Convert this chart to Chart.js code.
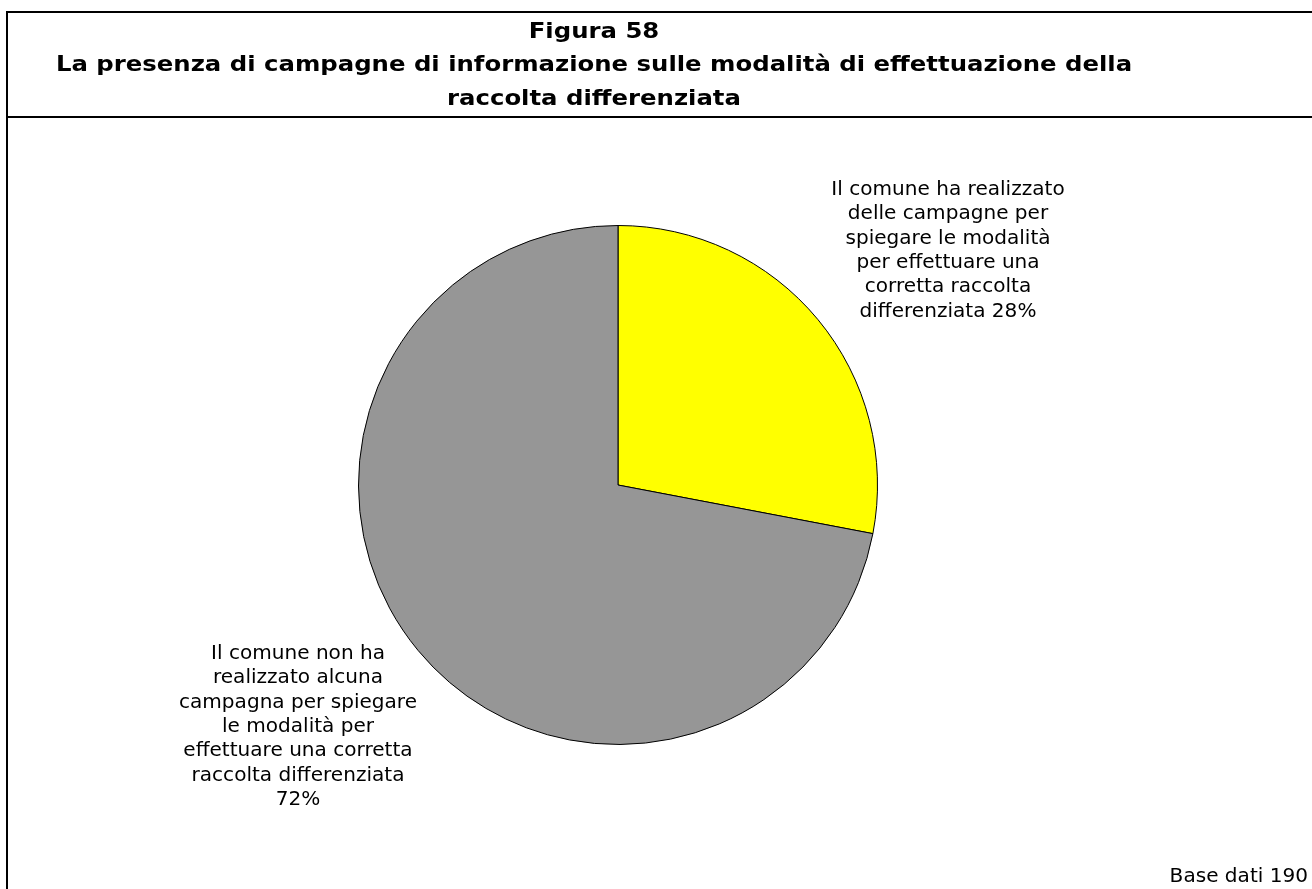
<!DOCTYPE html>
<html>
<head>
<meta charset="utf-8">
<script src="https://cdn.jsdelivr.net/npm/chart.js@4/dist/chart.umd.min.js"></script>
<style>
html,body{margin:0;padding:0;background:#fff;overflow:hidden;}
#wrap{position:absolute;left:0;top:0;width:1312px;height:889px;}
</style>
</head>
<body>
<div id="wrap"><canvas id="c" width="1312" height="889"></canvas></div>
<script>
const titleLines = ["Figura 58", "La presenza di campagne di informazione sulle modalità di effettuazione della", "raccolta differenziata"];
const categories = [
  "Il comune ha realizzato delle campagne per spiegare le modalità per effettuare una corretta raccolta differenziata",
  "Il comune non ha realizzato alcuna campagna per spiegare le modalità per effettuare una corretta raccolta differenziata"
];
const values = [28, 72];
const labelLines = [
  ["Il comune ha realizzato", "delle campagne per", "spiegare le modalità", "per effettuare una", "corretta raccolta", "differenziata 28%"],
  ["Il comune non ha", "realizzato alcuna", "campagna per spiegare", "le modalità per", "effettuare una corretta", "raccolta differenziata", "72%"]
];
const footnote = "Base dati 190";
const colors = ["#FFFF00", "#969696"];

const FONT = "'DejaVu Sans', Verdana, sans-serif";

function drawScaled(ctx, text, x, y, sx, align) {
  ctx.save();
  ctx.translate(x, y);
  ctx.scale(sx, 1);
  ctx.textAlign = align;
  ctx.fillText(text, 0, 0);
  ctx.restore();
}

const decor = {
  id: 'decor',
  afterDraw(chart) {
    const ctx = chart.ctx;
    ctx.save();
    // frame
    ctx.strokeStyle = '#000';
    ctx.lineWidth = 2;
    ctx.beginPath();
    ctx.moveTo(7, 889);
    ctx.lineTo(7, 12);
    ctx.lineTo(1312, 12);
    ctx.moveTo(7, 117);
    ctx.lineTo(1312, 117);
    ctx.stroke();
    // title
    ctx.fillStyle = '#000';
    ctx.textBaseline = 'alphabetic';
    ctx.font = 'bold 22px ' + FONT;
    const ty = [38, 71, 105];
    titleLines.forEach((t, i) => drawScaled(ctx, t, 594, ty[i], 1.107, 'center'));
    // slice labels, placed relative to arcs
    const meta = chart.getDatasetMeta(0);
    ctx.font = '19px ' + FONT;
    const anchors = [
      {dx: 330, dy: -290},
      {dx: -320, dy: 174}
    ];
    meta.data.forEach((arc, i) => {
      const cx = arc.x + anchors[i].dx;
      const cy = arc.y + anchors[i].dy;
      labelLines[i].forEach((l, j) => drawScaled(ctx, l, cx, cy + j * 24.3, 1.056, 'center'));
    });
    // footnote
    drawScaled(ctx, footnote, 1308, 882, 1.056, 'right');
    ctx.restore();
  }
};

new Chart(document.getElementById('c'), {
  type: 'pie',
  data: {
    labels: categories,
    datasets: [{
      data: values,
      backgroundColor: colors,
      borderColor: '#000',
      borderWidth: 1
    }]
  },
  options: {
    responsive: false,
    animation: false,
    layout: {padding: {left: 100, right: 176, top: 225, bottom: 144}},
    plugins: {
      legend: {display: false},
      tooltip: {enabled: false},
      title: {display: false}
    }
  },
  plugins: [decor]
});
</script>
</body>
</html>
